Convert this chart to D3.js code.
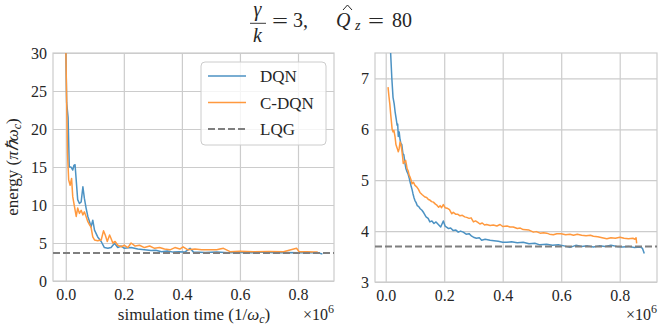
<!DOCTYPE html>
<html>
<head>
<meta charset="utf-8">
<script src="https://cdn.jsdelivr.net/npm/d3@7"></script>
<style>
  body { margin: 0; background: #fff; }
  svg { display: block; }
  text { font-family: "Liberation Serif", "Times New Roman", serif; fill: #262626; }
</style>
</head>
<body>
<svg width="664" height="332"></svg>
<script>
// values (x in units of 1e6 / omega_c, energy in pi hbar omega_c)
const xTicks = [0, 0.2, 0.4, 0.6, 0.8];
const yTicksLeft = [0, 5, 10, 15, 20, 25, 30];
const yTicksRight = [3, 4, 5, 6, 7];
const seriesNames = ["DQN", "C-DQN", "LQG"];
const lqgLevel = 3.7;

// left panel, raw curves
const dqnLeft = [[0.000,31],[0.003,23.5],[0.008,21.5],[0.012,15.0],[0.018,15.0],[0.024,14.6],[0.028,15.2],[0.032,15.3],[0.041,10.7],[0.047,10.2],[0.053,10.4],[0.059,12.4],[0.064,10.9],[0.070,9.6],[0.076,8.5],[0.082,7.8],[0.087,7.1],[0.093,8.0],[0.099,6.7],[0.110,5.8],[0.122,5.2],[0.133,4.4],[0.145,4.3],[0.156,4.4],[0.168,4.96],[0.179,4.4],[0.191,4.6],[0.202,4.3],[0.225,4.4],[0.248,4.2],[0.271,4.1],[0.294,4.0],[0.31,4.05],[0.33,3.85],[0.35,3.95],[0.37,3.8],[0.39,3.85],[0.41,3.8],[0.428,4.3],[0.44,3.8],[0.48,3.75],[0.52,3.8],[0.56,3.72],[0.60,3.78],[0.64,3.72],[0.68,3.8],[0.72,3.72],[0.76,3.75],[0.80,3.72],[0.84,3.75],[0.87,3.7],[0.884,3.55]];
const cdqnLeft = [[0.000,31],[0.006,16.8],[0.010,13.3],[0.015,12.6],[0.020,13.5],[0.024,11.1],[0.030,9.8],[0.036,8.5],[0.041,9.6],[0.047,8.9],[0.053,9.3],[0.059,8.7],[0.064,9.1],[0.070,8.5],[0.076,7.8],[0.082,7.4],[0.087,7.1],[0.093,5.8],[0.099,5.4],[0.110,5.3],[0.122,5.4],[0.130,6.6],[0.136,6.05],[0.143,5.2],[0.151,6.05],[0.156,5.6],[0.162,5.0],[0.170,5.2],[0.179,4.7],[0.191,4.5],[0.202,4.7],[0.214,4.4],[0.225,5.0],[0.239,4.6],[0.254,4.7],[0.271,4.4],[0.289,4.6],[0.306,4.3],[0.323,4.4],[0.340,4.2],[0.359,4.1],[0.376,4.4],[0.393,4.2],[0.404,4.5],[0.421,4.1],[0.445,4.2],[0.468,4.1],[0.52,4.1],[0.531,4.2],[0.543,4.3],[0.566,3.86],[0.60,3.9],[0.646,3.86],[0.70,3.88],[0.75,3.86],[0.795,4.3],[0.804,3.86],[0.83,3.85],[0.853,3.8],[0.868,3.8]];

// right panel, smoothed curves
const dqnRight = [[0.012,8.5],[0.017,7.48],[0.021,7.0],[0.025,6.63],[0.029,6.5],[0.032,6.35],[0.036,6.2],[0.039,6.08],[0.041,6.1],[0.043,5.86],[0.046,5.95],[0.049,5.8],[0.052,5.72],[0.055,5.7],[0.059,5.52],[0.062,5.5],[0.066,5.33],[0.069,5.23],[0.072,5.18],[0.076,5.13],[0.080,5.05],[0.084,4.95],[0.087,4.88],[0.090,4.82],[0.093,4.74],[0.097,4.65],[0.100,4.6],[0.104,4.56],[0.108,4.5],[0.113,4.48],[0.118,4.44],[0.124,4.41],[0.130,4.36],[0.138,4.28],[0.145,4.25],[0.151,4.18],[0.158,4.2],[0.165,4.15],[0.172,4.18],[0.180,4.13],[0.188,4.08],[0.197,4.2],[0.203,4.1],[0.208,4.08],[0.215,4.05],[0.222,4.06],[0.231,4.01],[0.240,4.02],[0.248,3.98],[0.256,4.0],[0.265,3.98],[0.275,3.94],[0.285,3.95],[0.294,3.9],[0.300,3.88],[0.31,3.86],[0.32,3.87],[0.328,3.82],[0.34,3.84],[0.357,3.82],[0.37,3.81],[0.385,3.8],[0.40,3.78],[0.414,3.78],[0.43,3.79],[0.45,3.77],[0.47,3.78],[0.49,3.75],[0.51,3.76],[0.527,3.73],[0.55,3.74],[0.57,3.72],[0.59,3.73],[0.61,3.71],[0.63,3.68],[0.65,3.72],[0.67,3.7],[0.69,3.71],[0.71,3.69],[0.73,3.71],[0.75,3.7],[0.77,3.72],[0.79,3.7],[0.81,3.69],[0.83,3.7],[0.85,3.68],[0.87,3.69],[0.878,3.66],[0.884,3.56]];
const cdqnRight = [[0.008,6.83],[0.011,6.65],[0.014,6.5],[0.017,6.3],[0.019,6.18],[0.022,6.0],[0.025,5.95],[0.028,5.98],[0.032,5.85],[0.035,5.7],[0.038,5.65],[0.041,5.6],[0.043,5.56],[0.046,5.62],[0.049,5.75],[0.052,5.7],[0.055,5.59],[0.058,5.45],[0.060,5.33],[0.064,5.36],[0.068,5.39],[0.071,5.3],[0.073,5.23],[0.077,5.18],[0.080,5.1],[0.084,5.05],[0.087,5.0],[0.090,4.93],[0.095,4.96],[0.100,4.9],[0.106,4.87],[0.112,4.82],[0.117,4.76],[0.124,4.72],[0.130,4.69],[0.134,4.67],[0.140,4.66],[0.146,4.62],[0.151,4.61],[0.157,4.58],[0.163,4.57],[0.170,4.53],[0.175,4.51],[0.181,4.47],[0.186,4.5],[0.191,4.46],[0.197,4.52],[0.203,4.46],[0.210,4.45],[0.218,4.42],[0.226,4.34],[0.231,4.37],[0.24,4.33],[0.247,4.33],[0.254,4.3],[0.262,4.31],[0.27,4.28],[0.277,4.27],[0.285,4.25],[0.292,4.26],[0.300,4.18],[0.307,4.2],[0.315,4.17],[0.322,4.14],[0.33,4.16],[0.338,4.12],[0.345,4.13],[0.357,4.11],[0.368,4.12],[0.38,4.1],[0.391,4.13],[0.40,4.09],[0.415,4.1],[0.425,4.08],[0.436,4.08],[0.45,4.05],[0.46,4.06],[0.47,4.03],[0.49,4.02],[0.505,3.98],[0.515,3.99],[0.528,3.96],[0.54,3.97],[0.55,3.96],[0.56,3.94],[0.573,3.93],[0.585,3.95],[0.60,3.95],[0.615,3.93],[0.63,3.94],[0.642,3.92],[0.655,3.94],[0.67,3.92],[0.685,3.91],[0.70,3.92],[0.71,3.9],[0.725,3.89],[0.74,3.87],[0.756,3.85],[0.77,3.87],[0.785,3.86],[0.801,3.88],[0.815,3.86],[0.83,3.85],[0.845,3.86],[0.852,3.84],[0.856,3.87],[0.858,3.76]];

const BLUE = "#4c92c3";
const ORANGE = "#ff993e";
const GREY = "#7f7f7f";
const GRID = "#cccccc";

var svg = d3.select("svg");

function drawPanel(p, id) {
  var x = d3.scaleLinear().domain(p.xDomain).range([p.left, p.right]);
  var y = d3.scaleLinear().domain(p.yDomain).range([p.bottom, p.top]);
  var g = svg.append("g");

  // grid
  g.append("g").attr("transform", "translate(0," + p.bottom + ")")
    .call(d3.axisBottom(x).tickValues(xTicks).tickSize(-(p.bottom - p.top)).tickFormat(""))
    .call(a => a.select(".domain").remove())
    .call(a => a.selectAll("line").attr("stroke", GRID).attr("stroke-width", 1.2));
  g.append("g").attr("transform", "translate(" + p.left + ",0)")
    .call(d3.axisLeft(y).tickValues(p.yTicks).tickSize(-(p.right - p.left)).tickFormat(""))
    .call(a => a.select(".domain").remove())
    .call(a => a.selectAll("line").attr("stroke", GRID).attr("stroke-width", 1.2));

  // frame
  g.append("rect").attr("x", p.left).attr("y", p.top)
    .attr("width", p.right - p.left).attr("height", p.bottom - p.top)
    .attr("fill", "none").attr("stroke", GRID).attr("stroke-width", 1.2);

  // tick labels
  g.append("g").attr("transform", "translate(0," + p.bottom + ")")
    .call(d3.axisBottom(x).tickValues(xTicks).tickSize(0).tickPadding(8).tickFormat(d3.format(".1f")))
    .call(a => a.select(".domain").remove())
    .call(a => a.selectAll("text").attr("font-size", 16).attr("fill", "#262626"));
  g.append("g").attr("transform", "translate(" + p.left + ",0)")
    .call(d3.axisLeft(y).tickValues(p.yTicks).tickSize(0).tickPadding(6).tickFormat(d3.format("d")))
    .call(a => a.select(".domain").remove())
    .call(a => a.selectAll("text").attr("font-size", 16).attr("fill", "#262626"));

  // clip
  svg.append("clipPath").attr("id", id)
    .append("rect").attr("x", p.left).attr("y", p.top)
    .attr("width", p.right - p.left).attr("height", p.bottom - p.top);
  var plot = g.append("g").attr("clip-path", "url(#" + id + ")");

  var line = d3.line().x(d => x(d[0])).y(d => y(d[1]));
  plot.append("path").datum(p.dqn).attr("d", line)
    .attr("fill", "none").attr("stroke", BLUE).attr("stroke-width", 1.5).attr("stroke-linejoin", "round");
  plot.append("path").datum(p.cdqn).attr("d", line)
    .attr("fill", "none").attr("stroke", ORANGE).attr("stroke-width", 1.5).attr("stroke-linejoin", "round");
  plot.append("line")
    .attr("x1", p.left).attr("x2", p.right)
    .attr("y1", y(lqgLevel)).attr("y2", y(lqgLevel))
    .attr("stroke", GREY).attr("stroke-width", 2).attr("stroke-dasharray", "7,3");

  // x10^6 offset
  var off = g.append("text").attr("x", p.right).attr("y", p.offsetY)
    .attr("text-anchor", "end").attr("font-size", 16);
  off.append("tspan").text("\u00d710");
  off.append("tspan").attr("font-size", 12).attr("dy", -7).text("6");

  return { x: x, y: y };
}

drawPanel({
  left: 53, right: 334, top: 53, bottom: 281,
  xDomain: [-0.044, 0.924], yDomain: [0, 30], yTicks: yTicksLeft,
  dqn: dqnLeft, cdqn: cdqnLeft, offsetY: 320
}, "clipL");

drawPanel({
  left: 375, right: 657, top: 53, bottom: 282,
  xDomain: [-0.0366, 0.9275], yDomain: [3, 7.5], yTicks: yTicksRight,
  dqn: dqnRight, cdqn: cdqnRight, offsetY: 320
}, "clipR");

// axis labels
var xl = svg.append("text").attr("x", 194).attr("y", 320).attr("text-anchor", "middle").attr("font-size", 17);
xl.append("tspan").text("simulation time (1/");
xl.append("tspan").attr("font-style", "italic").text("\u03c9");
xl.append("tspan").attr("font-style", "italic").attr("font-size", 12).attr("dy", 3).text("c");
xl.append("tspan").attr("dy", -3).text(")");

var yl = svg.append("text").attr("transform", "translate(18,167) rotate(-90)")
  .attr("text-anchor", "middle").attr("font-size", 17);
yl.append("tspan").text("energy (");
yl.append("tspan").attr("font-style", "italic").text("\u03c0\u210f\u03c9");
yl.append("tspan").attr("font-style", "italic").attr("font-size", 12).attr("dy", 3).text("c");
yl.append("tspan").attr("dy", -3).text(")");

// legend
var leg = svg.append("g");
leg.append("rect").attr("x", 201).attr("y", 62).attr("width", 125).attr("height", 83)
  .attr("rx", 4).attr("fill", "#fff").attr("fill-opacity", 0.8).attr("stroke", GRID).attr("stroke-width", 1);
var legColors = [BLUE, ORANGE, GREY];
seriesNames.forEach(function(name, i) {
  var yy = 76 + i * 26.5;
  leg.append("line").attr("x1", 208).attr("x2", 246).attr("y1", yy).attr("y2", yy)
    .attr("stroke", legColors[i]).attr("stroke-width", i == 2 ? 2 : 1.5)
    .attr("stroke-dasharray", i == 2 ? "7,3" : null);
  leg.append("text").attr("x", 260).attr("y", yy + 6).attr("font-size", 17).text(name);
});

// title: gamma/k = 3,  Q^_z = 80
var t = svg.append("g");
t.append("text").attr("x", 257.5).attr("y", 16).attr("text-anchor", "middle").attr("font-size", 20)
  .attr("font-style", "italic").text("\u03b3");
t.append("line").attr("x1", 250).attr("x2", 266).attr("y1", 23.3).attr("y2", 23.3)
  .attr("stroke", "#262626").attr("stroke-width", 0.9);
t.append("text").attr("x", 257.5).attr("y", 42).attr("text-anchor", "middle").attr("font-size", 20)
  .attr("font-style", "italic").text("k");
t.append("text").attr("x", 272).attr("y", 28).attr("font-size", 20)
  .attr("textLength", 16).attr("lengthAdjust", "spacingAndGlyphs").text("=");
t.append("text").attr("x", 293).attr("y", 27).attr("font-size", 20).text("3,");
t.append("text").attr("x", 336).attr("y", 27).attr("font-size", 20).attr("font-style", "italic").text("Q");
t.append("path").attr("d", "M343,10 L347.5,5 L352,10").attr("fill", "none")
  .attr("stroke", "#262626").attr("stroke-width", 1);
t.append("text").attr("x", 355).attr("y", 30).attr("font-size", 14).attr("font-style", "italic").text("z");
t.append("text").attr("x", 368).attr("y", 28).attr("font-size", 20)
  .attr("textLength", 16).attr("lengthAdjust", "spacingAndGlyphs").text("=");
t.append("text").attr("x", 392).attr("y", 27).attr("font-size", 20).text("80");
</script>
</body>
</html>
